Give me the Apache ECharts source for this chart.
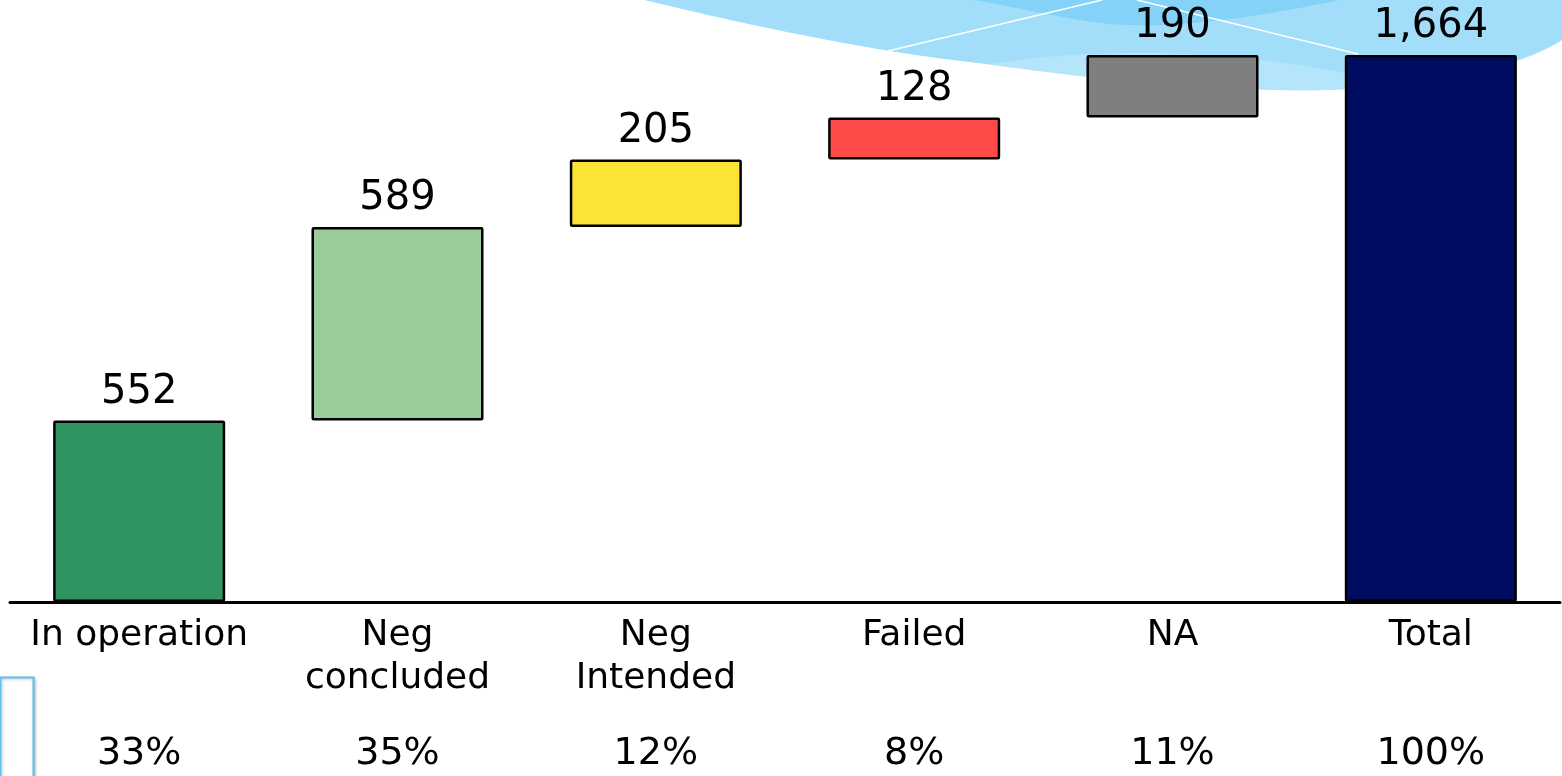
<!DOCTYPE html>
<html>
<head>
<meta charset="utf-8">
<script src="https://cdn.jsdelivr.net/npm/echarts@6/dist/echarts.min.js"></script>
<style>
  html, body { margin: 0; padding: 0; background: #ffffff; }
  #chart { width: 1562px; height: 776px; }
</style>
</head>
<body>
<div id="chart"></div>
<script>
// Waterfall: contributions by status, building up to the total
const categories = ['In operation', 'Neg\nconcluded', 'Neg\nIntended', 'Failed', 'NA', 'Total'];
const values = [552, 589, 205, 128, 190, 1664];
const shareLabels = ['33%', '35%', '12%', '8%', '11%', '100%'];
const barColors = ['#2f9362', '#99cc99', '#fbe433', '#ff4a4a', '#7f7f7f', '#000c5f'];

// invisible offsets: running sum of the steps before each bar; the total starts at 0
const offsets = [];
let running = 0;
values.forEach(function (v, i) {
  const isTotal = i === values.length - 1;
  offsets.push(isTotal ? 0 : running);
  if (!isTotal) running += v;
});

const FONT = '"DejaVu Sans", Verdana, sans-serif';

// sample a chain of cubic Bezier segments into polygon points (for the header decoration)
function bezierChain(start, segs, steps) {
  const pts = [start.slice()];
  let p0 = start;
  segs.forEach(function (s) {
    const c1 = s[0], c2 = s[1], p3 = s[2];
    for (let k = 1; k <= steps; k++) {
      const t = k / steps, u = 1 - t;
      pts.push([
        u * u * u * p0[0] + 3 * u * u * t * c1[0] + 3 * u * t * t * c2[0] + t * t * t * p3[0],
        u * u * u * p0[1] + 3 * u * u * t * c1[1] + 3 * u * t * t * c2[1] + t * t * t * p3[1]
      ]);
    }
    p0 = p3;
  });
  return pts;
}

const swooshOuter = bezierChain([645, 0], [
  [[850, 50], [1150, 95], [1330, 90]],
  [[1450, 86], [1530, 62], [1562, 40]]
], 40).concat([[1562, 0]]);

const swooshMid = bezierChain([645, 0], [
  [[800, 38], [920, 58], [990, 64]],
  [[1100, 46], [1260, 48], [1400, 86]],
  [[1470, 78], [1535, 56], [1562, 40]]
], 40).concat([[1562, 0]]);

const swooshTop = bezierChain([975, 0], [
  [[1030, 10], [1070, 20], [1110, 24]],
  [[1190, 30], [1280, 12], [1340, 0]]
], 30);

const chart = echarts.init(document.getElementById('chart'), null, { renderer: 'canvas' });

chart.setOption({
  backgroundColor: '#ffffff',
  animation: false,
  graphic: [
    { type: 'polygon', z: -10, silent: true, shape: { points: swooshOuter }, style: { fill: '#b5e5fb' } },
    { type: 'polygon', z: -9, silent: true, shape: { points: swooshMid }, style: { fill: '#a2ddfa' } },
    { type: 'polygon', z: -8, silent: true, shape: { points: swooshTop }, style: { fill: '#84d2f8' } },
    {
      type: 'line', z: -7, silent: true,
      shape: { x1: 888, y1: 51, x2: 1102, y2: 0 },
      style: { stroke: '#ffffff', lineWidth: 1.5 }
    },
    {
      type: 'line', z: -7, silent: true,
      shape: { x1: 1137, y1: 0, x2: 1358, y2: 54 },
      style: { stroke: '#ffffff', lineWidth: 1.5 }
    },
    // small framed box at the lower-left edge
    {
      type: 'rect', z: -5, silent: true,
      shape: { x: 0.5, y: 677.5, width: 33, height: 110 },
      style: {
        fill: '#ffffff', stroke: '#5cc4f2', lineWidth: 2,
        shadowColor: 'rgba(0,0,0,0.25)', shadowBlur: 3, shadowOffsetX: 1, shadowOffsetY: 1
      }
    }
  ],
  grid: { left: 10, right: 2, top: 55, bottom: 171, containLabel: false },
  xAxis: [
    {
      type: 'category',
      data: categories,
      position: 'bottom',
      axisLine: { show: true, lineStyle: { color: '#000000', width: 3 } },
      axisTick: { show: false },
      axisLabel: {
        interval: 0, margin: 12,
        fontFamily: FONT, fontSize: 36, color: '#000000',
        lineHeight: 43
      }
    },
    {
      type: 'category',
      data: shareLabels,
      position: 'bottom',
      offset: 121,
      axisLine: { show: false },
      axisTick: { show: false },
      axisLabel: {
        interval: 0, margin: 10,
        fontFamily: FONT, fontSize: 38, color: '#000000',
        lineHeight: 43
      }
    }
  ],
  yAxis: {
    type: 'value', min: 0, max: 1664,
    show: false,
    splitLine: { show: false }
  },
  series: [
    {
      name: 'offset',
      type: 'bar',
      stack: 'wf',
      silent: true,
      barWidth: '66.6%',
      itemStyle: { color: 'transparent', borderWidth: 0 },
      data: offsets
    },
    {
      name: 'value',
      type: 'bar',
      stack: 'wf',
      barWidth: '66.6%',
      data: values.map(function (v, i) {
        return {
          value: v,
          itemStyle: { color: barColors[i], borderColor: '#000000', borderWidth: 2.5, borderRadius: 1 }
        };
      }),
      label: {
        show: true,
        position: 'top',
        distance: 8,
        fontFamily: FONT,
        fontSize: 40,
        color: '#000000',
        formatter: function (p) { return p.value.toLocaleString('en-US'); }
      }
    }
  ]
});
</script>
</body>
</html>
